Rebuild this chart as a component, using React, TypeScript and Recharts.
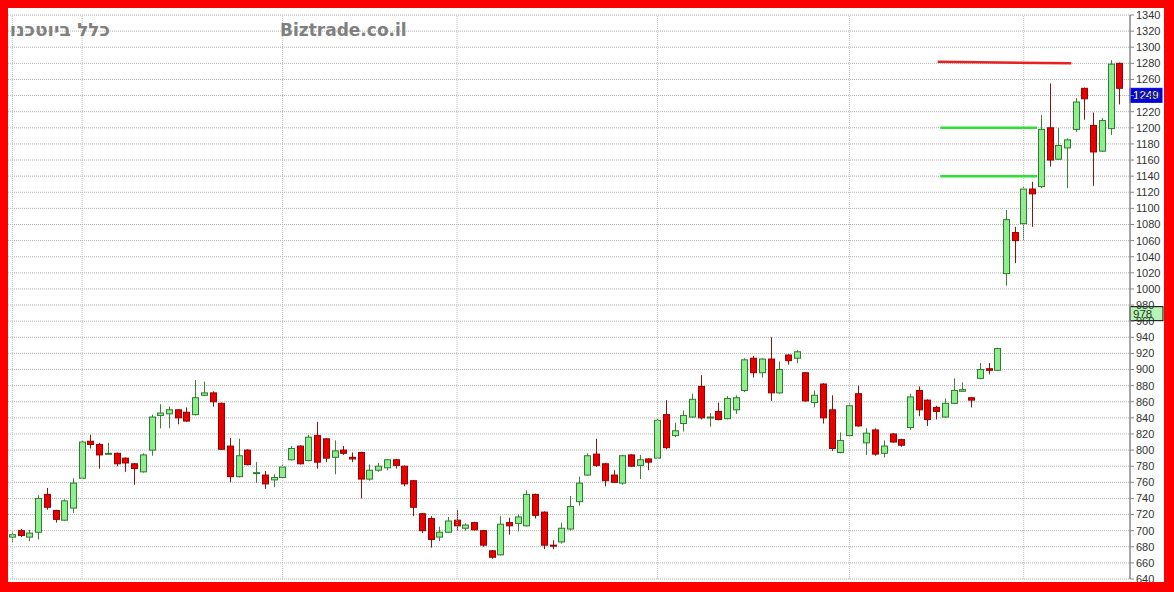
import React from 'react';
import {
  ComposedChart,
  Bar,
  XAxis,
  YAxis,
  CartesianGrid,
  ReferenceLine,
} from 'recharts';

// ---- data ----
const opens = [
  692, 700, 692, 698, 745, 725, 713, 728, 765, 811, 807, 795, 796, 790, 783, 773,
  800, 843, 845, 850, 847, 844, 868, 871, 858, 805, 767, 800, 771, 769, 763, 766,
  788, 805, 787, 818, 814, 791, 800, 791, 797, 764, 775, 778, 788, 780, 762, 721,
  715, 692, 698, 713, 703, 710, 700, 675, 670, 710, 709, 706, 745, 723, 682, 686,
  702, 736, 769, 795, 783, 769, 759, 794, 781, 789, 790, 844, 818, 833, 841, 879,
  840, 848, 839, 850, 874, 914, 896, 913, 871, 918, 914, 896, 859, 882, 850, 797,
  818, 870, 809, 825, 796, 820, 813, 828, 874, 862, 853, 841, 858, 873, 865, 889,
  901, 899, 1019, 1070, 1081, 1124, 1127, 1200, 1161, 1175, 1198, 1249, 1203, 1171, 1199, 1280,
];
const highs = [
  699, 702, 701, 744, 753, 726, 739, 765, 812, 819, 809, 809, 797, 791, 784, 796,
  844, 857, 854, 851, 853, 887, 885, 873, 859, 815, 814, 801, 785, 774, 770, 783,
  805, 806, 819, 835, 815, 812, 805, 797, 798, 782, 784, 789, 789, 781, 763, 722,
  718, 705, 717, 726, 709, 711, 701, 676, 718, 716, 720, 750, 746, 724, 688, 710,
  743, 767, 796, 814, 784, 775, 794, 795, 794, 790, 839, 862, 834, 849, 870, 893,
  846, 859, 867, 868, 914, 917, 914, 940, 910, 919, 924, 897, 874, 883, 868, 822,
  858, 880, 827, 827, 812, 821, 814, 870, 879, 863, 855, 864, 889, 884, 866, 908,
  908, 927, 1098, 1077, 1127, 1133, 1216, 1255, 1200, 1187, 1237, 1250, 1219, 1212, 1284, 1281,
];
const lows = [
  685, 692, 687, 689, 726, 710, 712, 722, 764, 802, 777, 794, 780, 773, 757, 772,
  793, 827, 827, 832, 835, 843, 867, 854, 800, 760, 766, 781, 759, 752, 754, 765,
  787, 782, 786, 777, 785, 770, 794, 785, 740, 762, 773, 775, 777, 755, 718, 697,
  679, 687, 697, 700, 700, 700, 680, 665, 669, 695, 699, 705, 715, 677, 677, 684,
  700, 731, 768, 779, 755, 759, 757, 779, 764, 775, 789, 801, 816, 823, 840, 838,
  829, 837, 838, 845, 872, 890, 890, 861, 870, 906, 908, 860, 853, 833, 799, 796,
  816, 829, 794, 793, 791, 809, 804, 825, 842, 830, 838, 840, 857, 872, 853, 888,
  894, 898, 1004, 1032, 1061, 1077, 1125, 1152, 1160, 1125, 1195, 1210, 1128, 1170, 1191, 1229,
];
const closes = [
  695, 694, 697, 740, 729, 714, 737, 759, 810, 807, 794, 796, 783, 784, 777, 794,
  841, 846, 850, 840, 836, 865, 871, 860, 801, 767, 793, 782, 772, 758, 766, 779,
  802, 783, 816, 785, 790, 799, 796, 789, 764, 775, 780, 788, 781, 758, 729, 700,
  689, 698, 712, 706, 707, 701, 682, 667, 708, 706, 717, 745, 719, 682, 681, 703,
  730, 759, 793, 781, 762, 760, 793, 780, 788, 785, 837, 803, 824, 843, 863, 840,
  841, 838, 864, 865, 912, 896, 913, 871, 900, 911, 922, 861, 868, 840, 802, 812,
  855, 830, 821, 795, 805, 810, 806, 866, 850, 838, 848, 858, 874, 875, 862, 900,
  899, 926, 1086, 1060, 1124, 1118, 1198, 1160, 1178, 1185, 1232, 1236, 1170, 1209, 1279, 1249,
];

const yTicks = [
  640, 660, 680, 700, 720, 740, 760, 780, 800, 820, 840, 860, 880, 900, 920, 940,
  960, 980, 1000, 1020, 1040, 1060, 1080, 1100, 1120, 1140, 1160, 1180, 1200, 1220,
  1240, 1260, 1280, 1300, 1320, 1340,
];
// candle indices where a new month starts (vertical grid lines)
const monthStarts = [0, 8, 31, 51, 74, 96, 116];
// level lines: x in the hidden numeric axis units, y in price
const redLevel = [
  { x: 105.8, y: 1282 },
  { x: 121.0, y: 1280 },
];
const greenLevelHigh = [
  { x: 106.1, y: 1200 },
  { x: 117.1, y: 1200 },
];
const greenLevelLow = [
  { x: 106.1, y: 1140 },
  { x: 117.1, y: 1140 },
];
const lastPrice = 1249;
const markPrice = 978;
const titleHe = 'כלל ביוטכנו';
const titleSite = 'Biztrade.co.il';

const data = opens.map((o, i) => ({
  i,
  open: o,
  high: highs[i],
  low: lows[i],
  close: closes[i],
}));
const N = data.length;

const Candle = (props: any) => {
  const { x, y, width, height, payload } = props;
  if (!payload) return null;
  const { open, close, high, low } = payload;
  const top = Math.min(y, y + height);
  const h = Math.abs(height);
  const k = h / (high - low);
  const yOf = (v: number) => top + (high - v) * k;
  const cx = Math.round(x + width / 2) + 0.5;
  const up = close >= open;
  const bTop = yOf(Math.max(open, close));
  const bBot = yOf(Math.min(open, close));
  const bh = Math.max(1, bBot - bTop);
  return (
    <g>
      <line
        x1={cx}
        x2={cx}
        y1={top}
        y2={top + h}
        stroke={up ? '#3f7f3f' : '#8a1414'}
        strokeWidth={1}
      />
      <rect
        x={cx - 3}
        y={bTop}
        width={6}
        height={bh}
        fill={up ? '#90ee90' : '#e60000'}
        stroke={up ? '#2e7d2e' : '#9a0000'}
        strokeWidth={1}
      />
    </g>
  );
};

const PriceTag = ({ viewBox, text, fill, color, stroke, w }: any) => {
  if (!viewBox) return null;
  const x = viewBox.x + viewBox.width;
  const y = viewBox.y;
  return (
    <g>
      <rect x={x} y={y} width={w} height={14} fill={fill} stroke={stroke} strokeWidth={1} />
      <text
        x={x + 3}
        y={y + 11}
        fill={color}
        fontSize={11.5}
        fontFamily="'Liberation Sans', Arial, sans-serif"
      >
        {text}
      </text>
    </g>
  );
};

export default function App() {
  return (
    <div
      style={{
        position: 'absolute',
        left: 0,
        top: 0,
        width: 1174,
        height: 592,
        background: '#ff0000',
      }}
    >
      <div
        style={{
          position: 'absolute',
          left: 8,
          top: 8,
          width: 1156,
          height: 574,
          background: '#ffffff',
          overflow: 'hidden',
        }}
      >
        <ComposedChart
          width={1156}
          height={574}
          data={data}
          margin={{ top: 7, right: 0, bottom: 3, left: 0 }}
        >
          <CartesianGrid
            horizontal
            vertical={false}
            stroke="#b0b0b0"
            strokeDasharray="1 1"
          />
          <XAxis
            xAxisId="cat"
            dataKey="i"
            type="category"
            hide
            padding={{ left: 0, right: 6 }}
          />
          <XAxis
            xAxisId="num"
            type="number"
            domain={[0, N]}
            hide
            padding={{ left: 0, right: 6 }}
            allowDataOverflow
          />
          <YAxis
            orientation="right"
            domain={[640, 1340]}
            ticks={yTicks}
            interval={0}
            width={34}
            tickSize={4}
            tickMargin={2}
            axisLine={{ stroke: '#888888', strokeWidth: 1.5 }}
            tickLine={{ stroke: '#888888' }}
            tick={{
              fontSize: 11,
              fill: '#333333',
              fontFamily: "'Liberation Sans', Arial, sans-serif",
            }}
          />
          {monthStarts.map((m) => (
            <ReferenceLine
              key={'m' + m}
              xAxisId="cat"
              x={m}
              stroke="#c0c0c0"
              strokeDasharray="1 1"
            />
          ))}
          <Bar
            xAxisId="cat"
            dataKey={(d: any) => [d.low, d.high]}
            barSize={6}
            shape={<Candle />}
            isAnimationActive={false}
          />
          <ReferenceLine
            xAxisId="num"
            segment={redLevel}
            stroke="#e82020"
            strokeWidth={2.5}
          />
          <ReferenceLine
            xAxisId="num"
            segment={greenLevelHigh}
            stroke="#30e030"
            strokeWidth={2.5}
          />
          <ReferenceLine
            xAxisId="num"
            segment={greenLevelLow}
            stroke="#30e030"
            strokeWidth={2.5}
          />
          <ReferenceLine
            xAxisId="num"
            y={lastPrice}
            stroke="none"
            label={(p: any) => (
              <PriceTag
                viewBox={p.viewBox}
                text={String(lastPrice)}
                fill="#0000dd"
                color="#ffffff"
                stroke="#0000dd"
                w={32}
              />
            )}
          />
          <ReferenceLine
            xAxisId="num"
            y={markPrice}
            stroke="none"
            label={(p: any) => (
              <PriceTag
                viewBox={p.viewBox}
                text={String(markPrice)}
                fill="#b6f5b6"
                color="#1e3a1e"
                stroke="#000000"
                w={33}
              />
            )}
          />
        </ComposedChart>
        <svg
          width={1156}
          height={574}
          style={{ position: 'absolute', left: 0, top: 0, pointerEvents: 'none' }}
        >
          <text
            x={102}
            y={28}
            textAnchor="end"
            fill="#808080"
            fontSize={18.5}
            fontWeight="bold"
            fontFamily="'DejaVu Sans', Verdana, sans-serif"
          >
            {titleHe}
          </text>
          <text
            x={272}
            y={28}
            fill="#808080"
            fontSize={17}
            fontWeight="bold"
            fontFamily="'DejaVu Sans', Verdana, sans-serif"
          >
            {titleSite}
          </text>
        </svg>
      </div>
    </div>
  );
}
